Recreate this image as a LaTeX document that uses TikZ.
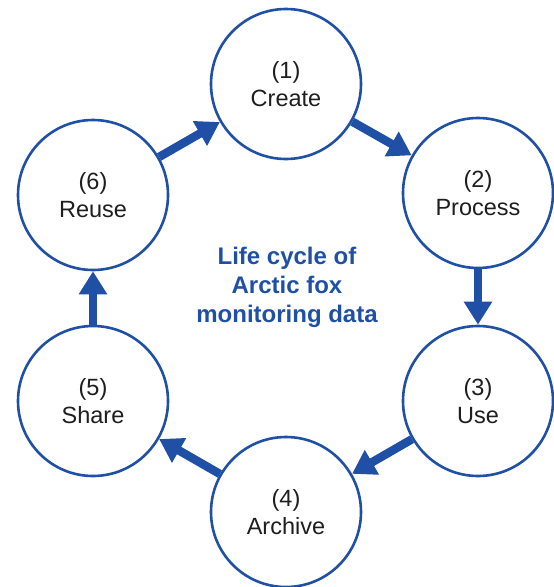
\documentclass[tikz,border=0pt]{standalone}
\usepackage{fontspec}
\setmainfont{Liberation Sans}
\usetikzlibrary{arrows.meta}
\definecolor{cblue}{RGB}{31,80,165}
\definecolor{ctext}{RGB}{30,30,30}
\begin{document}
\begin{tikzpicture}[x=1pt,y=-1pt,
  stage/.style={circle,draw=cblue,line width=2.6pt,fill=white,minimum size=150pt,inner sep=0pt,
    align=center,font=\fontsize{23.5}{28}\selectfont,text=ctext},
  flow/.style={draw=cblue,line width=8.5pt,-{Triangle[length=23pt,width=27pt]}}]
\useasboundingbox (0,0) rectangle (554,587);
\node[stage] (c1) at (286,84) {(1)\\Create};
\node[stage] (c2) at (478,193) {(2)\\Process};
\node[stage] (c3) at (478,401) {(3)\\Use};
\node[stage] (c4) at (286,512) {(4)\\Archive};
\node[stage] (c5) at (93,401) {(5)\\Share};
\node[stage] (c6) at (93,195) {(6)\\Reuse};
\node[align=center,text=cblue,font=\bfseries\fontsize{24}{29}\selectfont] (title) at (287,287) {Life cycle of\\Arctic fox\\monitoring data};
\draw[flow] (c1) -- (c2);
\draw[flow] (c2) -- (c3);
\draw[flow] (c3) -- (c4);
\draw[flow] (c4) -- (c5);
\draw[flow] (c5) -- (c6);
\draw[flow] (c6) -- (c1);
\end{tikzpicture}
\end{document}
